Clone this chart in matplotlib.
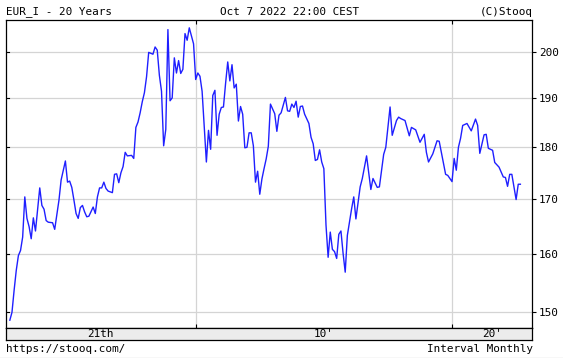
import numpy as np
import matplotlib
matplotlib.use("Agg")
import matplotlib.pyplot as plt
from matplotlib.lines import Line2D

TITLE = "EUR_I - 20 Years"
STAMP = "Oct 7 2022 22:00 CEST"
COPYRIGHT = "(C)Stooq"
SOURCE = "https://stooq.com/"
INTERVAL = "Interval Monthly"

# monthly closes, month 0 = Oct 2002
START_YEAR = 2002.75
month_idx = [
    0, 1, 2, 3, 4, 5, 6, 7, 8, 9, 10, 11, 12, 14, 15, 16, 17, 18, 20, 21,
    23, 24, 26, 27, 28, 29, 30, 31, 32, 33, 34, 35, 36, 37, 39, 40, 41, 42, 43, 44,
    45, 46, 48, 49, 50, 51, 52, 53, 54, 55, 57, 58, 59, 60, 61, 62, 63, 64, 65, 66,
    67, 68, 69, 70, 71, 72, 73, 74, 75, 76, 77, 78, 79, 80, 81, 82, 83, 84, 86, 87,
    88, 89, 90, 91, 92, 93, 94, 95, 96, 97, 98, 99, 100, 101, 102, 103, 104, 105, 106, 107,
    108, 109, 110, 111, 112, 113, 114, 115, 116, 117, 118, 119, 120, 121, 122, 124, 125, 126, 127, 129,
    130, 131, 132, 133, 134, 135, 136, 137, 138, 140, 141, 142, 143, 144, 145, 146, 147, 148, 149, 150,
    151, 152, 153, 154, 155, 156, 157, 158, 159, 160, 161, 162, 164, 165, 167, 169, 170, 172, 173, 175,
    176, 178, 179, 181, 182, 183, 185, 187, 188, 190, 192, 194, 195, 196, 198, 200, 201, 202, 203, 204,
    205, 207, 208, 209, 210, 211, 212, 214, 216, 218, 219, 220, 222, 223, 224, 226, 227, 229, 231, 232,
    233, 234, 235, 237, 238, 239,
]
price = [
    148.7, 150.0, 153.7, 157.1, 159.7, 160.6, 163.0, 170.4, 166.4, 164.9, 162.7, 166.5, 164.1, 172.1, 168.8, 168.1, 166.0, 165.7, 165.6, 164.4,
    169.8, 173.6, 177.3, 173.2, 173.4, 172.2, 169.8, 167.3, 166.4, 168.4, 168.8, 167.6, 166.7, 166.8, 168.5, 167.3, 170.4, 172.1, 172.1, 173.2,
    172.0, 171.5, 171.2, 174.7, 174.8, 173.1, 175.0, 176.2, 179.0, 178.3, 178.4, 177.8, 184.0, 185.1, 187.0, 189.3, 191.2, 194.6, 199.9, 199.7,
    199.5, 201.1, 200.4, 194.9, 191.5, 180.3, 183.6, 205.0, 189.5, 190.1, 198.7, 195.4, 198.1, 195.3, 196.2, 204.1, 202.6, 205.4, 201.8, 194.0,
    195.4, 194.7, 191.5, 184.1, 177.1, 183.4, 179.6, 190.6, 191.7, 182.4, 186.7, 188.1, 188.2, 193.2, 197.8, 193.7, 197.2, 192.2, 193.0, 185.3,
    188.3, 186.7, 179.9, 180.0, 182.9, 182.9, 180.3, 173.2, 175.3, 170.9, 173.8, 175.8, 177.7, 180.2, 188.8, 186.8, 183.2, 186.5, 187.0, 190.2,
    187.4, 187.3, 188.8, 188.1, 189.4, 186.1, 188.3, 188.4, 186.7, 184.8, 182.0, 180.7, 177.4, 177.6, 179.5, 177.1, 175.8, 165.2, 159.4, 163.9,
    160.8, 160.4, 159.2, 163.5, 164.1, 160.1, 156.8, 163.3, 165.7, 168.2, 170.4, 166.3, 172.3, 173.9, 178.3, 171.8, 173.9, 172.2, 172.3, 178.6,
    180.0, 188.2, 182.4, 185.4, 186.1, 185.8, 185.4, 182.3, 184.0, 183.5, 181.0, 182.6, 179.0, 177.1, 178.7, 181.3, 181.2, 179.0, 176.9, 174.7,
    174.5, 173.3, 177.8, 175.5, 180.0, 181.8, 184.4, 184.8, 183.3, 185.7, 184.4, 178.8, 182.5, 182.6, 179.8, 179.4, 177.0, 176.1, 174.2, 174.1,
    172.4, 174.7, 174.7, 169.9, 172.8, 172.8,
]
price_ticks = [150, 160, 170, 180, 190, 200]
decades = [2010, 2020]
period_labels = ["21th", "10'", "20'"]

W, H = 563, 358
MONO = "DejaVu Sans Mono"
FS = 7.9


def fx(px):
    return px / W


def fy(py):
    return 1 - py / H


years = START_YEAR + np.array(month_idx) / 12.0
x_lo, x_hi = 2002.6, 2023.12

fig = plt.figure(figsize=(W / 100, H / 100), dpi=100)
fig.patch.set_facecolor("white")

left, right, top, bottom = 6, 532, 19.5, 327.5
ax = fig.add_axes([fx(left), fy(bottom), fx(right) - fx(left), fy(top) - fy(bottom)])
ax.plot(years, price, color="#1f1fff", lw=1.0, zorder=3)
ax.set_yscale("log")
ax.set_xlim(x_lo, x_hi)
ax.set_ylim(147.5, 207.3)

ax.set_yticks(price_ticks)
ax.set_yticklabels([str(t) for t in price_ticks], fontfamily=MONO, fontsize=FS)
ax.yaxis.set_minor_locator(matplotlib.ticker.NullLocator())
ax.yaxis.tick_right()
ax.tick_params(axis="y", which="major", direction="out", length=3, width=0.8, pad=2, right=True, left=False)
ax.set_xticks(decades)
ax.set_xticklabels([])
ax.tick_params(axis="x", direction="in", length=3, width=0.8, top=True, bottom=True)
ax.grid(True, color="#d4d4d4", lw=0.9, zorder=0)
for s in ax.spines.values():
    s.set_linewidth(0.9)
    s.set_color("black")

# left inner ticks
for t in price_ticks:
    ax.plot([x_lo, x_lo + 0.12], [t, t], color="black", lw=0.8, zorder=4)

# period strip below the chart
strip_bottom = 340
sax = fig.add_axes([fx(left), fy(strip_bottom), fx(right) - fx(left), fy(bottom) - fy(strip_bottom)])
sax.set_facecolor("#ececec")
sax.set_xlim(x_lo, x_hi)
sax.set_ylim(0, 1)
sax.set_xticks([])
sax.set_yticks([])
for s in sax.spines.values():
    s.set_linewidth(0.9)
    s.set_color("black")
bounds = [x_lo] + decades + [x_hi]
for i, lab in enumerate(period_labels):
    mid = (bounds[i] + bounds[i + 1]) / 2
    sax.text(mid, 0.45, lab, ha="center", va="center", fontfamily=MONO, fontsize=FS, color="black")

fig.text(fx(6), fy(12), TITLE, ha="left", va="center", fontfamily=MONO, fontsize=FS, color="black")
fig.text(fx(289.6), fy(12), STAMP, ha="center", va="center", fontfamily=MONO, fontsize=FS, color="black")
fig.text(fx(533), fy(12), COPYRIGHT, ha="right", va="center", fontfamily=MONO, fontsize=FS, color="black")
fig.text(fx(6), fy(348.5), SOURCE, ha="left", va="center", fontfamily=MONO, fontsize=FS, color="black")
fig.text(fx(533), fy(348.5), INTERVAL, ha="right", va="center", fontfamily=MONO, fontsize=FS, color="black")

fig.add_artist(Line2D([0, 1], [fy(357.5), fy(357.5)], color="#d8d8d8", lw=1.0))

fig.savefig("out.png", dpi=100)
